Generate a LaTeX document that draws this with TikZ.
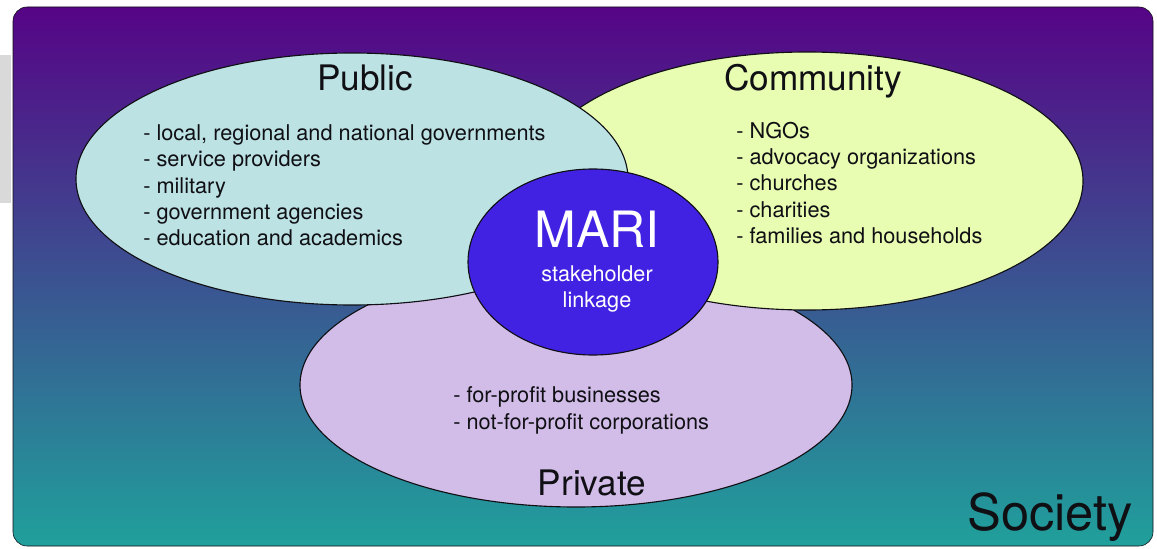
\documentclass[tikz,border=0pt]{standalone}
\usepackage{fontspec}
\setmainfont{TeX Gyre Heros}
\usepackage{xcolor}
\usepackage{tikz}
\definecolor{skytop}{RGB}{86,4,134}
\definecolor{skymid}{RGB}{62,74,148}
\definecolor{skybot}{RGB}{32,160,156}
\definecolor{pubfill}{RGB}{188,226,228}
\definecolor{comfill}{RGB}{232,252,178}
\definecolor{privfill}{RGB}{210,188,232}
\definecolor{marifill}{RGB}{66,34,226}
\definecolor{ink}{RGB}{15,15,20}
\def\listfont{\fontsize{15.45}{18.7}\selectfont}

\begin{document}
\begin{tikzpicture}[x=0.025cm,y=0.025cm,
	blob/.style={draw=ink,thick},
	title/.style={text=ink,inner sep=0pt,anchor=base,font=\fontsize{25}{30}\selectfont},
	items/.style={text=ink,inner sep=0pt,anchor=west,align=left,font=\listfont}]
	\useasboundingbox (0,0) rectangle (1157,548);
	\fill[gray!30] (0,345) rectangle (11,493);
	\shade[top color=skytop,middle color=skymid,bottom color=skybot,draw=ink,rounded corners=10pt] (13,2) rectangle (1153,541);
	\draw[blob,fill=privfill] (576,163) ellipse [x radius=276,y radius=122];
	\draw[blob,fill=comfill] (807,367) ellipse [x radius=276,y radius=129];
	\draw[blob,fill=pubfill] (352,369) ellipse [x radius=276,y radius=126];
	\draw[blob,fill=marifill] (593,286) ellipse [x radius=125,y radius=93];
	\node[title] (pubtitle) at (365,457) {Public};
	\node[title] (comtitle) at (813,457) {Community};
	\node[title] (privtitle) at (592,53) {Private};
	\node[title,font=\fontsize{36}{40}\selectfont] (society) at (1050,18) {Society};
	\node[title,text=white,font=\fontsize{35.6}{40}\selectfont] (mari) at (597,301) {MARI};
	\node[title,text=white,font=\fontsize{15.4}{18}\selectfont] (stake) at (597,267) {stakeholder};
	\node[title,text=white,font=\fontsize{15.4}{18}\selectfont] (linkage) at (597,241) {linkage};
	\node[items] (publist) at (143,362.5) {- local, regional and national governments\\- service providers\\- military\\- government agencies\\- education and academics};
	\node[items] (comlist) at (736,365) {- NGOs\\- advocacy organizations\\- churches\\- charities\\- families and households};
	\node[items] (privlist) at (453,137.5) {- for-profit businesses\\- not-for-profit corporations};
\end{tikzpicture}
\end{document}
